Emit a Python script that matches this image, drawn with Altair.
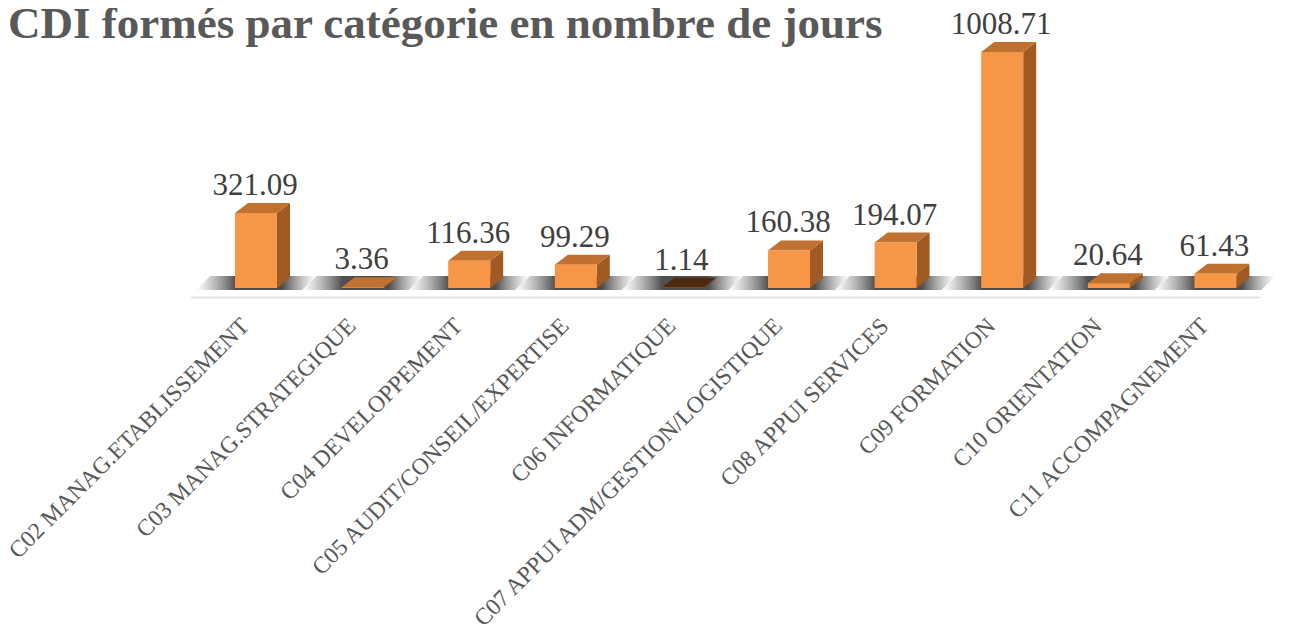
import altair as alt
import pandas as pd

# ---------------- data ----------------
categories = [
    "C02 MANAG.ETABLISSEMENT",
    "C03 MANAG.STRATEGIQUE",
    "C04 DEVELOPPEMENT",
    "C05 AUDIT/CONSEIL/EXPERTISE",
    "C06 INFORMATIQUE",
    "C07 APPUI ADM/GESTION/LOGISTIQUE",
    "C08 APPUI SERVICES",
    "C09 FORMATION",
    "C10 ORIENTATION",
    "C11 ACCOMPAGNEMENT",
]
values = [321.09, 3.36, 116.36, 99.29, 1.14, 160.38, 194.07, 1008.71, 20.64, 61.43]
title_text = "CDI formés par catégorie en nombre de jours"

# ---------------- layout (pixels) ----------------
W, H = 1070, 230
PX_X = 106.6                 # pixels per category step
X_DOM = [-66 / PX_X, -66 / PX_X + W / PX_X]
Y_MAX = 983.07
PX_V = H / Y_MAX             # pixels per value unit
HALF, DEPTH, RISE = 21, 13, 10
hx = HALF / PX_X
dx = DEPTH / PX_X
dv = RISE / PX_V

FRONT = "#F79646"
SIDE = "#A05A22"
TOP = "#C0712F"

front_rows, side_rows, top_rows, shadow_rows = [], [], [], []
for i, (c, v) in enumerate(zip(categories, values)):
    L, R = i - hx, i + hx
    front_rows.append({"cat": c, "i": i, "left": L, "right": R, "val": v})
    side_rows += [
        {"cat": c, "x": R, "a": v, "b": 0, "val": v},
        {"cat": c, "x": R + dx, "a": v + dv, "b": dv, "val": v},
    ]
    top_rows += [
        {"cat": c, "x": L, "a": v, "b": v, "val": v},
        {"cat": c, "x": L + dx, "a": v, "b": v + dv, "val": v},
        {"cat": c, "x": R, "a": v, "b": v + dv, "val": v},
        {"cat": c, "x": R + dx, "a": v + dv, "b": v + dv, "val": v},
    ]
    s0, s1 = -2 / PX_V, 12 / PX_V
    sl, sr, sk = i - 60 / PX_X, i + 60 / PX_X, 14 / PX_X
    shadow_rows += [
        {"cat": c, "x": sl, "a": s0, "b": s0},
        {"cat": c, "x": sl + sk, "a": s0, "b": s1},
        {"cat": c, "x": sr - sk, "a": s0, "b": s1},
        {"cat": c, "x": sr, "a": s1, "b": s1},
    ]

front_df = pd.DataFrame(front_rows)
side_df = pd.DataFrame(side_rows)
top_df = pd.DataFrame(top_rows)
shadow_df = pd.DataFrame(shadow_rows)
title_df = pd.DataFrame({"t": [title_text]})

xs = alt.Scale(domain=X_DOM, nice=False, zero=False)
ys = alt.Scale(domain=[0, Y_MAX], nice=False, zero=False)
x_axis = alt.Axis(labels=False, ticks=False, grid=False, domainColor="#E3E3E3",
                  domainWidth=2, offset=9, title=None)

shadow_grad = alt.LinearGradient(
    gradient="linear", x1=0, x2=1, y1=0, y2=0,
    stops=[
        alt.GradientStop(color="rgba(120,120,120,0)", offset=0),
        alt.GradientStop(color="rgba(60,60,60,0.9)", offset=0.33),
        alt.GradientStop(color="rgba(60,60,60,0.9)", offset=0.72),
        alt.GradientStop(color="rgba(120,120,120,0)", offset=1),
    ],
)

shadow = alt.Chart(shadow_df).mark_area(color=shadow_grad).encode(
    x=alt.X("x:Q", scale=xs, axis=x_axis),
    y=alt.Y("a:Q", scale=ys, axis=None),
    y2="b:Q",
    detail="cat:N",
)

side = alt.Chart(side_df).mark_area(color=SIDE).encode(
    x=alt.X("x:Q", scale=xs, axis=x_axis),
    y=alt.Y("a:Q", scale=ys, axis=None),
    y2="b:Q",
    detail="cat:N",
)

top = alt.Chart(top_df).mark_area().encode(
    x=alt.X("x:Q", scale=xs, axis=x_axis),
    y=alt.Y("a:Q", scale=ys, axis=None),
    y2="b:Q",
    detail="cat:N",
    color=alt.condition(alt.datum.val < 2, alt.value("#4D2A0F"), alt.value(TOP)),
)

front = alt.Chart(front_df).mark_rect(color=FRONT).encode(
    x=alt.X("left:Q", scale=xs, axis=x_axis),
    x2="right:Q",
    y=alt.Y("val:Q", scale=ys, axis=None),
    y2=alt.datum(0),
)

vlabels = alt.Chart(front_df).mark_text(
    font="Liberation Serif", fontSize=31, color="#404040",
    baseline="alphabetic", align="center", dy=-18, dx=-1,
).encode(
    x=alt.X("i:Q", scale=xs, axis=x_axis),
    y=alt.Y("val:Q", scale=ys, axis=None),
    text=alt.Text("val:Q", format=".2f"),
)

xlabels = alt.Chart(front_df).mark_text(
    font="Liberation Serif", fontSize=23.5, color="#595959",
    angle=315, align="right", baseline="top", xOffset=-19, yOffset=26,
).encode(
    x=alt.X("i:Q", scale=xs, axis=x_axis),
    y=alt.datum(0),
    text="cat:N",
)

title = alt.Chart(title_df).mark_text(
    font="Liberation Serif", fontSize=45, fontWeight="bold", color="#595959",
    align="left", baseline="alphabetic", dx=-182, dy=-20,
).encode(
    x=alt.datum(X_DOM[0]),
    y=alt.datum(Y_MAX),
    text="t:N",
)

chart = alt.layer(shadow, side, top, front, vlabels, xlabels, title).properties(
    width=W,
    height=H,
    padding={"left": 182, "top": 50, "right": 21, "bottom": 339},
    autosize=alt.AutoSizeParams(type="none"),
).configure_view(stroke=None)

chart.save("out.html", embed_options={"renderer": "svg", "actions": False})
